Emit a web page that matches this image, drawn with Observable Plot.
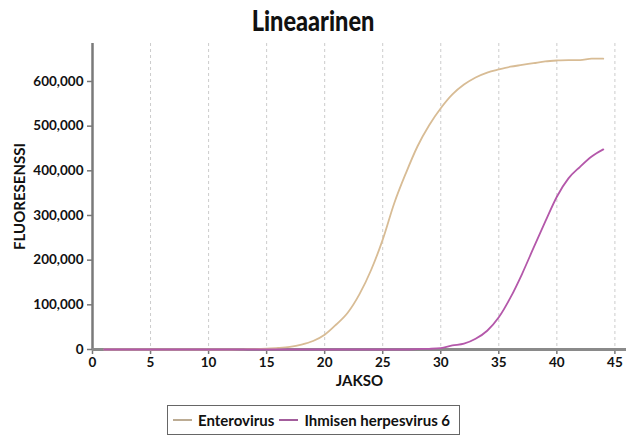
<!DOCTYPE html>
<html>
<head>
<meta charset="utf-8">
<script src="https://cdn.jsdelivr.net/npm/d3@7"></script>
<script src="https://cdn.jsdelivr.net/npm/@observablehq/plot@0.6"></script>
<style>
  html, body { margin: 0; padding: 0; background: #fff; }
  body { width: 627px; height: 436px; overflow: hidden; font-family: Lato, "Open Sans", sans-serif; }
  #title { height: 38px; text-align: center; line-height: 40px; }
  #title span { display: inline-block; font-size: 28px; font-weight: 900; color: #111; transform: scaleX(0.84); }
  #legend { display: flex; justify-content: center; margin-top: 3px; }
  #legend .box { border: 1.5px solid #666; height: 28px; display: flex; align-items: center; padding: 0 4px 0 5px; font-weight: 700; font-size: 15px; color: #111; }
  #legend .sw { display: inline-block; width: 19px; height: 0; border-top: 2px solid; margin-right: 6px; }
  #legend .item { display: flex; align-items: center; margin-right: 5px; }
</style>
</head>
<body>
<div id="title"><span>Lineaarinen</span></div>
<div id="chart"></div>
<div id="legend"></div>
<script>
const cycles = [1,2,3,4,5,6,7,8,9,10,11,12,13,14,15,16,17,18,19,20,21,22,23,24,25,26,27,28,29,30,31,32,33,34,35,36,37,38,39,40,41,42,43,44];
const enterovirus = [0,0,0,0,0,0,0,0,0,0,0,0,500,1000,2000,3500,6000,11000,19000,33000,56000,83000,124000,178000,246000,328000,395000,455000,502000,540000,571000,593000,609000,620000,627000,633000,637000,641000,645000,647000,648000,648000,651000,651000];
const hhv6 = [0,0,0,0,0,0,0,0,0,0,0,0,0,0,0,0,0,0,0,0,0,0,0,0,0,0,0,1000,1500,3000,9000,13000,24000,42000,72000,116000,169000,228000,286000,342000,383000,409000,432000,448000];
const seriesNames = ["Enterovirus", "Ihmisen herpesvirus 6"];
const seriesColors = ["#d8bc95", "#b458aa"];
const legendColors = ["#bcac94", "#a35d9c"];
const xTicks = [0,5,10,15,20,25,30,35,40,45];
const gridTicks = [5,10,15,20,25,30,35,40,45];
const yTicks = [0,100000,200000,300000,400000,500000,600000];

const rows = [];
cycles.forEach((c, i) => {
  rows.push({cycle: c, value: enterovirus[i], series: seriesNames[0]});
});
cycles.forEach((c, i) => {
  rows.push({cycle: c, value: hhv6[i], series: seriesNames[1]});
});

const plot = Plot.plot({
  width: 627,
  height: 364,
  marginLeft: 92,
  marginRight: 1,
  marginTop: 5,
  marginBottom: 53,
  style: {fontFamily: "Lato, 'Open Sans', sans-serif", fontSize: "13.5px", fontWeight: "700", color: "#111", background: "#fff"},
  x: {domain: [0, 46]},
  y: {domain: [0, 685000]},
  color: {domain: seriesNames, range: seriesColors},
  marks: [
    Plot.ruleX(gridTicks, {stroke: "#cccccc", strokeWidth: 1, strokeDasharray: "3,3"}),
    Plot.axisX({ticks: xTicks, tickSize: 5, tickPadding: 3, stroke: "#777", strokeWidth: 1.5,
      label: "JAKSO", labelAnchor: "center", labelOffset: 36, labelArrow: "none"}),
    Plot.axisY({ticks: yTicks, tickSize: 5, tickPadding: 4, tickFormat: d3.format(","), stroke: "#777", strokeWidth: 1.5,
      label: "FLUORESENSSI", labelAnchor: "center", labelOffset: 78, labelArrow: "none"}),
    Plot.ruleX([0], {stroke: "#7a7a7a", strokeWidth: 2.5}),
    Plot.ruleY([0], {stroke: "#8a8a8a", strokeWidth: 3}),
    Plot.line(rows, {x: "cycle", y: "value", z: "series", stroke: "series", strokeWidth: 1.8, curve: "monotone-x"})
  ]
});
document.getElementById("chart").appendChild(plot);
plot.querySelectorAll("g[aria-label='x-axis label'] text, g[aria-label='y-axis label'] text").forEach(t => t.setAttribute("font-size", "15"));

const legend = document.getElementById("legend");
const box = document.createElement("div");
box.className = "box";
seriesNames.forEach((n, i) => {
  const it = document.createElement("div");
  it.className = "item";
  const sw = document.createElement("span");
  sw.className = "sw";
  sw.style.borderTopColor = legendColors[i];
  it.appendChild(sw);
  it.appendChild(document.createTextNode(n));
  box.appendChild(it);
});
legend.appendChild(box);
</script>
</body>
</html>
